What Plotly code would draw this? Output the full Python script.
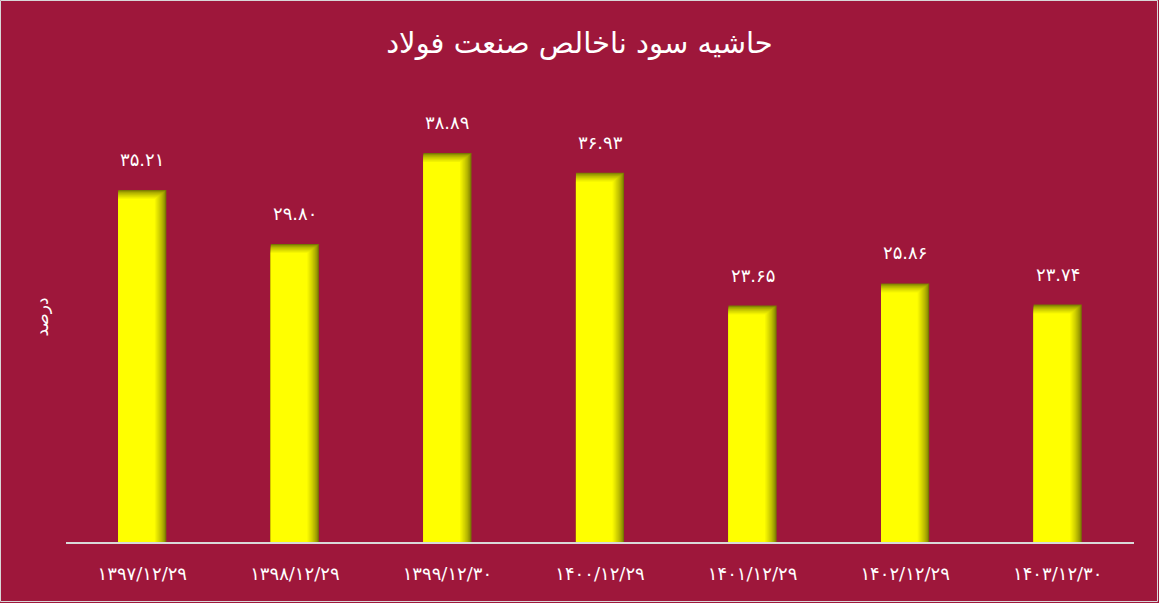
import plotly.graph_objects as go

categories = ["۱۳۹۷/۱۲/۲۹", "۱۳۹۸/۱۲/۲۹", "۱۳۹۹/۱۲/۳۰", "۱۴۰۰/۱۲/۲۹",
              "۱۴۰۱/۱۲/۲۹", "۱۴۰۲/۱۲/۲۹", "۱۴۰۳/۱۲/۳۰"]
values = [35.21, 29.80, 38.89, 36.93, 23.65, 25.86, 23.74]
title_text = "حاشیه سود ناخالص صنعت فولاد"
y_title = "درصد"

BG = "#9E173B"
FA = str.maketrans("0123456789", "۰۱۲۳۴۵۶۷۸۹")

def fa(v):
    return f"{v:.2f}".translate(FA)

fig = go.Figure()

W = 0.315          # bar width (category units)
N = 10             # gradient layers
DX = 0.075 / N     # right-edge shading per layer
DY = 0.9 / N       # top-edge shading per layer
dark = (120, 120, 0)
light = (255, 255, 0)

for i in range(N + 1):
    t = (i / N) ** 0.7
    c = tuple(int(dark[k] + (light[k] - dark[k]) * t) for k in range(3))
    fig.add_trace(go.Bar(
        x=categories,
        y=[v - i * DY for v in values],
        width=W - i * DX,
        offset=-W / 2,
        marker=dict(color=f"rgb{c}", line=dict(width=0)),
        hoverinfo="skip" if i < N else None,
        showlegend=False,
    ))

for cat, v in zip(categories, values):
    fig.add_annotation(x=cat, y=v, text=fa(v), showarrow=False,
                       yanchor="bottom", yshift=18,
                       font=dict(family="DejaVu Sans", size=18, color="white"))

L, R, T, B = 66, 25, 92, 61
PW, PH = 1159 - L - R, 603 - T - B
fig.add_shape(type="rect", xref="paper", yref="paper",
              x0=-(L - 0.5) / PW, x1=1 + (R - 1.5) / PW,
              y0=-(B - 1.5) / PH, y1=1 + (T - 0.5) / PH,
              line=dict(color="#d8d8d8", width=1), layer="below")

fig.update_layout(
    width=1159, height=603,
    paper_bgcolor=BG, plot_bgcolor=BG,
    barmode="overlay",
    margin=dict(l=L, r=R, t=T, b=B),
    title=dict(text=title_text, x=0.5, xanchor="center", y=0.929, yanchor="middle",
               font=dict(family="DejaVu Sans", size=29, color="white")),
    xaxis=dict(showgrid=False, showline=True, linecolor="#d9d9d9", linewidth=2,
               ticks="", tickfont=dict(family="DejaVu Sans", size=18, color="white"),
               ticklabelstandoff=14, zeroline=False),
    yaxis=dict(range=[0, 45], showgrid=False, showticklabels=False, zeroline=False,
               showline=False,
               title=dict(text=y_title, standoff=12,
                          font=dict(family="DejaVu Sans", size=17, color="white"))),
)

fig.write_html("out.html", config={"displayModeBar": False},
               post_script="document.body.style.margin='0';document.body.style.padding='0';")
